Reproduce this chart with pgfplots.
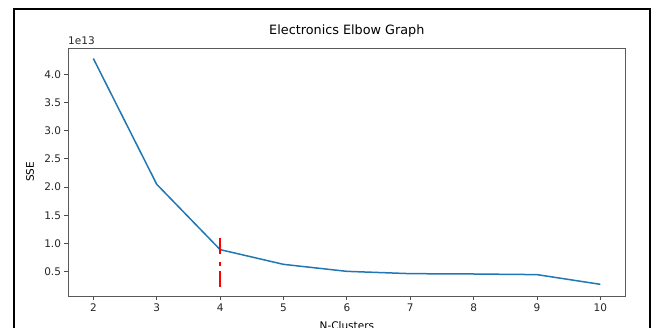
\documentclass[border=0pt]{standalone}
\usepackage{pgfplots}
\pgfplotsset{compat=1.18}
\usepackage{fontspec}
\setmainfont{DejaVu Sans}
\definecolor{mplblue}{HTML}{1F77B4}
\newcommand{\tickfont}{\fontsize{10.5}{12}\selectfont}
\begin{document}
\begin{tikzpicture}[x=1pt,y=1pt]
\useasboundingbox (0,0) rectangle (656,-327);
\clip (0,0) rectangle (656,-327);
% outer frame
\draw[line width=2.3pt] (14,-9) rectangle (650,-360);
\begin{axis}[
  at={(68pt,-296pt)}, anchor=south west,
  scale only axis, width=557.7pt, height=248pt,
  xmin=1.6, xmax=10.4,
  ymin=0.07e13, ymax=4.465e13,
  xtick={2,3,4,5,6,7,8,9,10},
  ytick={0.5e13,1e13,1.5e13,2e13,2.5e13,3e13,3.5e13,4e13},
  yticklabels={0.5,1.0,1.5,2.0,2.5,3.0,3.5,4.0},
  scaled y ticks=false,
  tick pos=left, tick align=outside,
  major tick length=3.5pt,
  every tick/.style={black!70, line width=0.8pt},
  axis line style={black!65, line width=0.9pt},
  /pgf/number format/assume math mode=true,
  tick label style={font=\tickfont, text=black!85},
  xticklabel style={yshift=-0.5pt},
  title={Electronics Elbow Graph},
  title style={font=\fontsize{12.8}{14}\selectfont, at={(axis description cs:0.5,1)}, anchor=base, yshift=8pt},
  xlabel={N-Clusters},
  ylabel={SSE},
  xlabel style={font=\tickfont, at={(axis description cs:0.5,0)}, anchor=base, yshift=-33pt},
  ylabel style={font=\tickfont, at={(axis description cs:-0.068,0.5)}, rotate=0, anchor=center},
  clip=false,
]
% sum of squared errors for each cluster count
\addplot[mplblue, line width=1.5pt] coordinates {
  (2,4.278e13) (3,2.05e13) (4,0.892e13) (5,0.631e13) (6,0.507e13)
  (7,0.466e13) (8,0.46e13) (9,0.449e13) (10,0.277e13)
};
% elbow marker at k = 4
\addplot[red, line width=1.9pt, dash pattern=on 16pt off 8.5pt on 3.5pt off 5.5pt] coordinates {
  (4,1.10e13) (4,0.15e13)
};
\node[font=\tickfont, text=black!85, anchor=base west, inner sep=0pt] at (rel axis cs:0,1) [yshift=3.8pt] {1e13};
\end{axis}
\end{tikzpicture}
\end{document}
